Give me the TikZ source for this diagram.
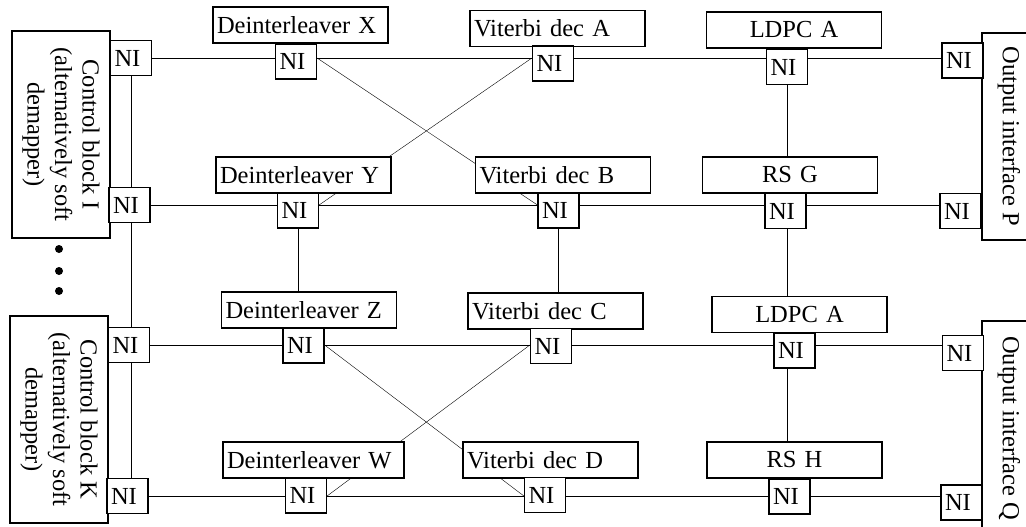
\documentclass[tikz,border=0pt]{standalone}
\usepackage{fontspec}
\setmainfont{Liberation Serif}
\usetikzlibrary{backgrounds}
\tikzset{nibox/.style={rectangle,draw=black,fill=white,
inner xsep=4pt,inner ysep=0pt,text width=33pt,align=left,minimum height=35pt}}
\tikzset{unitbox/.style={rectangle,draw=black,fill=white,
inner xsep=4pt,inner ysep=0pt,text width=167pt,align=left,minimum height=36pt}}
\tikzset{codecbox/.style={unitbox,align=center}}
\tikzset{ctrlbox/.style={rectangle,draw=black,fill=white,rotate=-90,
inner sep=0pt,minimum width=207pt,minimum height=98pt,align=center}}
\tikzset{outbox/.style={rectangle,draw=black,fill=white,rotate=-90,
inner sep=0pt,minimum height=54pt,align=center}}

\begin{document}
\begin{tikzpicture}[x=1pt,y=-1pt,line width=1.2pt,font=\fontsize{24.5}{27.5}\selectfont]
        \useasboundingbox (0,0) rectangle (1026,527);

        \node[ctrlbox] (ctrlI) at (61,134.5) {Control block I\\(alternatively soft\\demapper)};
        \node[ctrlbox] (ctrlK) at (59,419.5) {Control block K\\(alternatively soft\\demapper)};
        \node[outbox,minimum width=207pt] (outP) at (1009,136.5) {Output interface P};
        \node[outbox,minimum width=214pt] (outQ) at (1009,428) {Output interface Q};

        \node[nibox] (niI1) at (131,58) {NI};
        \node[nibox] (niI2) at (129.5,205) {NI};
        \node[nibox] (niK1) at (129,345) {NI};
        \node[nibox] (niK2) at (127.5,496) {NI};
        \node[nibox] (niP1) at (962.5,60.5) {NI};
        \node[nibox] (niP2) at (960.5,211) {NI};
        \node[nibox] (niQ1) at (963,353) {NI};
        \node[nibox] (niQ2) at (961.5,502.5) {NI};

        \node[unitbox] (deintX) at (300.5,25) {Deinterleaver X};
        \node[unitbox] (vitA) at (557.5,28.5) {Viterbi dec A};
        \node[codecbox] (ldpcA) at (794,30) {LDPC A};
        \node[nibox] (niX) at (296,61.5) {NI};
        \node[nibox] (niVA) at (553,63.5) {NI};
        \node[nibox] (niLA) at (787,67) {NI};

        \node[unitbox] (deintY) at (303.5,175) {Deinterleaver Y};
        \node[unitbox] (vitB) at (563,175) {Viterbi dec B};
        \node[codecbox] (rsG) at (790,175) {RS G};
        \node[nibox] (niY) at (298,210.5) {NI};
        \node[nibox] (niVB) at (558.5,210.5) {NI};
        \node[nibox] (niG) at (785.5,211) {NI};

        \node[unitbox] (deintZ) at (309,310) {Deinterleaver Z};
        \node[unitbox] (vitC) at (555.5,311) {Viterbi dec C};
        \node[codecbox] (ldpcB) at (799.5,314.5) {LDPC A};
        \node[nibox] (niZ) at (303.5,345.5) {NI};
        \node[nibox] (niVC) at (551,346) {NI};
        \node[nibox] (niLB) at (794.5,350.5) {NI};

        \node[unitbox,text width=173pt] (deintW) at (313.5,460) {Deinterleaver W};
        \node[unitbox] (vitD) at (550.5,460) {Viterbi dec D};
        \node[codecbox] (rsH) at (794.5,460) {RS H};
        \node[nibox] (niW) at (306,495.5) {NI};
        \node[nibox] (niVD) at (545,495) {NI};
        \node[nibox] (niH) at (789.5,496.5) {NI};

        \fill (59,249) circle (4pt);
        \fill (59,271) circle (4pt);
        \fill (59,291) circle (4pt);

        \begin{pgfonlayer}{background}
        \draw (niI1) -- (niI1 -| niP1);
        \draw (niI2) -- (niI2 -| niP2);
        \draw (niK1) -- (niK1 -| niQ1);
        \draw (niK2) -- (niK2 -| niQ2);

        \draw (niI1) -- (niI1 |- niK2);
        \draw (niLA) -- (niLA |- rsH.north);
        \draw (niY) -- (niY |- deintZ.north);
        \draw (niVB) -- (niVB |- vitC.north);

        \draw (niX.east |- niI1) -- (niVB.west |- niI2);
        \draw (niY.east |- niI2) -- (niVA.west |- niI1);
        \draw (niZ.east |- niK1) -- (niVD.west |- niK2);
        \draw (niW.east |- niK2) -- (niVC.west |- niK1);
        \end{pgfonlayer}
    \end{tikzpicture}
\end{document}
